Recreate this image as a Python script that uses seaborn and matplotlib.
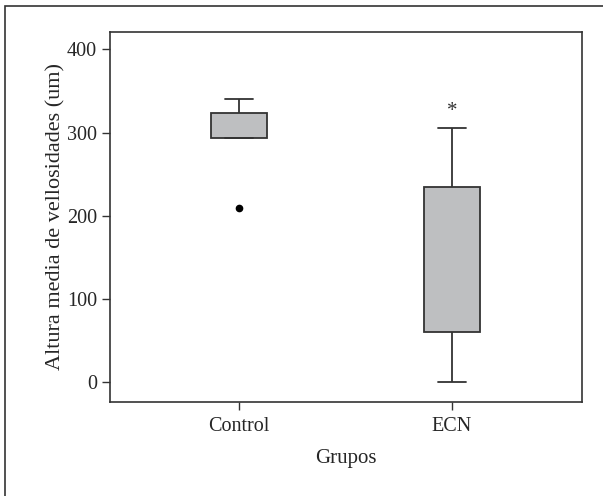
import pandas as pd
import matplotlib
matplotlib.use('Agg')
import matplotlib.pyplot as plt
import matplotlib.patches as patches
import seaborn as sns

# Valores (altura media de vellosidades, um)
grupos = ['Control', 'ECN']
control = [209, 293, 293, 293, 305, 323, 323, 340]
ecn = [0, 60, 60, 120, 180, 235, 235, 306]
y_ticks = [0, 100, 200, 300, 400]
marca_ecn = 325  # posicion del asterisco

data = pd.DataFrame({
    'Grupos': [grupos[0]] * len(control) + [grupos[1]] * len(ecn),
    'valor': control + ecn,
})

sns.set_style('ticks')
plt.rcParams['font.family'] = ['Liberation Serif', 'DejaVu Serif']

fig = plt.figure(figsize=(6.03, 4.96), dpi=100)
ax = fig.add_axes([109.5 / 603, 94 / 496, 472.5 / 603, 370 / 496])

linea = '#333333'
sns.boxplot(data=data, x='Grupos', y='valor', ax=ax, color='#bebfc1',
            saturation=1, width=0.264, linecolor=linea, linewidth=1.3,
            medianprops=dict(linewidth=0),
            flierprops=dict(marker='o', markerfacecolor='black',
                            markeredgecolor='black', markersize=4.5))

ax.text(1, marca_ecn, '*', ha='center', va='center', fontsize=15, color='#333333')

ax.set_xlim(-0.611, 1.613)
ax.set_ylim(-24.4, 421)
ax.set_yticks(y_ticks)
ax.set_yticklabels([str(v) for v in y_ticks])
ax.set_xlabel('Grupos', fontsize=15, labelpad=9)
ax.set_ylabel('Altura media de vellosidades (um)', fontsize=16, labelpad=1)
ax.tick_params(axis='both', labelsize=14.5, length=6, width=1, color=linea, pad=3)
ax.tick_params(axis='x', pad=5)
for s in ax.spines.values():
    s.set_visible(True)
    s.set_color(linea)
    s.set_linewidth(1.2)

# marco exterior
fig.patches.append(patches.Rectangle((5 / 603, -0.1), 2, 1.1 - 6 / 496,
                                     transform=fig.transFigure, fill=False,
                                     edgecolor='#333333', linewidth=1.2))

fig.savefig('out.png', dpi=100)
